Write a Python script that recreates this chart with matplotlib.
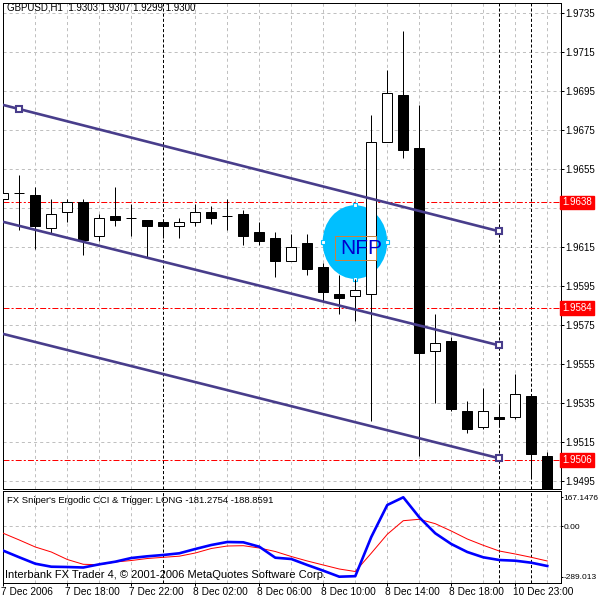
import numpy as np
import matplotlib.pyplot as plt
from matplotlib.patches import Rectangle, Ellipse
from matplotlib.transforms import ScaledTranslation

plt.rcParams['font.family'] = ['Liberation Sans', 'DejaVu Sans']
plt.rcParams['lines.scale_dashes'] = False

# GBPUSD H1 bars, 7 Dec 2006 14:00 .. 11 Dec 01:00
opens = [1.9640, 1.9643, 1.9642, 1.9625, 1.9633, 1.9638, 1.9621, 1.9631, 1.9630, 1.9629,
         1.9628, 1.9626, 1.9628, 1.9633, 1.9631, 1.9632, 1.9623, 1.9620, 1.9608, 1.9617,
         1.9605, 1.9591, 1.9590, 1.9591, 1.9669, 1.9693, 1.9666, 1.9562, 1.9567, 1.9531,
         1.9523, 1.9528, 1.9528, 1.9539, 1.9508]
highs = [1.9668, 1.9652, 1.9646, 1.9640, 1.9640, 1.9640, 1.9632, 1.9646, 1.9637, 1.9629,
         1.9628, 1.9630, 1.9637, 1.9636, 1.9640, 1.9634, 1.9628, 1.9623, 1.9622, 1.9622,
         1.9607, 1.9601, 1.9599, 1.9683, 1.9706, 1.9726, 1.9688, 1.9581, 1.9569, 1.9536,
         1.9543, 1.9534, 1.9550, 1.9539, 1.9510]
lows = [1.9626, 1.9624, 1.9614, 1.9622, 1.9628, 1.9611, 1.9618, 1.9626, 1.9621, 1.9610,
        1.9620, 1.9620, 1.9626, 1.9627, 1.9624, 1.9616, 1.9616, 1.9600, 1.9608, 1.9601,
        1.9587, 1.9581, 1.9577, 1.9526, 1.9669, 1.9661, 1.9508, 1.9535, 1.9531, 1.9520,
        1.9522, 1.9524, 1.9527, 1.9496, 1.9485]
closes = [1.9643, 1.9643, 1.9626, 1.9632, 1.9638, 1.9619, 1.9630, 1.9629, 1.9630, 1.9626,
          1.9626, 1.9628, 1.9633, 1.9630, 1.9631, 1.9621, 1.9618, 1.9608, 1.9615, 1.9604,
          1.9592, 1.9589, 1.9593, 1.9669, 1.9694, 1.9665, 1.9561, 1.9566, 1.9532, 1.9522,
          1.9531, 1.9527, 1.9540, 1.9509, 1.9488]

# Ergodic CCI (blue) and trigger (red)
ergodic = [-139.6, -177.6, -214.3, -231.6, -233.3, -236.2, -217.8, -202.8, -181.6, -171.8,
           -164.3, -154.6, -129.9, -106.9, -89.7, -91.4, -116.7, -179.9, -187.3, -221.8,
           -254.5, -289.0, -286.0, -60.9, 122.9, 167.1, 52.2, -39.7, -101.2, -147.1,
           -177.6, -193.1, -197.1, -208.6, -227.5]
trigger = [-39.7, -78.2, -118.4, -147.1, -190.2, -217.8, -220.1, -204.6, -196.0, -184.5,
           -177.6, -171.2, -152.9, -127.0, -112.7, -110.9, -124.1, -144.2, -173.0, -198.8,
           -221.8, -244.8, -259.2, -154.0, -45.4, 32.7, 40.8, 15.5, -26.5, -72.4,
           -108.6, -141.4, -158.6, -177.6, -198.8]

price_ticks = [1.9735, 1.9715, 1.9695, 1.9675, 1.9655, 1.9635, 1.9615, 1.9595,
               1.9575, 1.9555, 1.9535, 1.9515, 1.9495]
level_lines = [1.9638, 1.9584, 1.9506]
separators = [10, 31, 33]
time_bars = [0, 4, 8, 12, 16, 20, 24, 28, 32]
time_labels = ['7 Dec 2006', '7 Dec 18:00', '7 Dec 22:00', '8 Dec 02:00', '8 Dec 06:00',
               '8 Dec 10:00', '8 Dec 14:00', '8 Dec 18:00', '10 Dec 23:00']

# channel lines, anchored at bar 1 and bar 31
chan_bars = [1, 31]
chan_top = [1.96859, 1.96232]
chan_mid = [1.96260, 1.95647]
chan_bot = [1.95685, 1.95068]

ind_ticks = [167.1476, 0.0, -289.013]
ind_tick_labels = ['167.1476', '0.00', '-289.013']

PX = 0.72  # one pixel in points at 100 dpi
GRID = dict(color='#c0c0c0', lw=PX, dashes=(2.2, 2.2), zorder=0)
SEP = dict(color='black', lw=PX, dashes=(2.2, 1.5), zorder=0.5)
CHAN = '#483d8b'

fig = plt.figure(figsize=(6, 6), dpi=100)
ax = fig.add_axes([3/600, 1 - 489.3/600, 557.7/600, 486.3/600])
ind = fig.add_axes([3/600, 1 - 583/600, 557.7/600, 92/600])
xlim = (-0.019, 34.84)

# ---- main price window
ax.set_xlim(*xlim)
ax.set_ylim(1.94909, 1.97403)
for p in price_ticks:
    ax.axhline(p, **GRID)
for k in range(2, 35, 2):
    if k not in separators:
        ax.axvline(k, **GRID)
for k in separators:
    ax.axvline(k, **SEP)
for p in level_lines:
    ax.axhline(p, color='red', lw=PX, dashes=(4.3, 1.5, 1.5, 1.5), zorder=1)

# NFP marker
ell_k, ell_p, ell_w, ell_h = 21.98, 1.96177, 4.04, 0.00378
ax.add_patch(Ellipse((ell_k, ell_p), ell_w, ell_h, color='#00bfff', lw=0, zorder=2))
ax.add_patch(Rectangle((20.73, 1.96085), 2.56, 0.00123, fill=False, ec='#c8823c',
                       lw=PX, zorder=4.5))
ax.text(22.36, 1.96146, 'NFP', color='#0000cd', fontsize=15, ha='center', va='center',
        zorder=4.6)
hx = [ell_k, ell_k - ell_w/2, ell_k + ell_w/2, ell_k]
hy = [ell_p + ell_h/2, ell_p, ell_p, ell_p - ell_h/2]
ax.plot(hx, hy, 's', ms=3.2, mfc='white', mec='#00bfff', mew=0.8, ls='none', zorder=2.4)

# candles
w = 0.625
for k, (o, h, l, c) in enumerate(zip(opens, highs, lows, closes)):
    ax.vlines(k, l, h, color='black', lw=PX, zorder=3)
    fc = 'white' if c >= o else 'black'
    ax.add_patch(Rectangle((k - w/2, min(o, c)), w, abs(c - o), fc=fc, ec='black',
                           lw=PX, zorder=4))

# channel
xs = np.array([xlim[0] - 1, chan_bars[1]])
for line in (chan_top, chan_mid, chan_bot):
    slope = (line[1] - line[0]) / (chan_bars[1] - chan_bars[0])
    ys = line[0] + slope * (xs - chan_bars[0])
    ax.plot(xs, ys, color=CHAN, lw=1.9, zorder=5, solid_capstyle='butt')
    ax.plot(chan_bars[1], line[1], 's', ms=5, mfc='white', mec=CHAN, mew=1.5, zorder=6)
ax.plot(chan_bars[0], chan_top[0], 's', ms=5, mfc='white', mec=CHAN, mew=1.5, zorder=6)

# price scale; the 1.9635 label sits under the red 1.9638 box, so it stays blank
ax.yaxis.tick_right()
ax.set_yticks(price_ticks)
ax.set_yticklabels(['' if abs(p - level_lines[0]) < 0.0005 else f'{p:.4f}'
                    for p in price_ticks])
ax.tick_params(axis='y', length=3*PX, width=PX, pad=1.5, labelsize=7)
ax.tick_params(axis='x', bottom=False, labelbottom=False)
for s in ax.spines.values():
    s.set_linewidth(PX)

for p in level_lines:
    ax.text(1.003, p, f'{p:.4f}', transform=ax.get_yaxis_transform(), color='white',
            fontsize=7, va='center', ha='left', clip_on=False, zorder=10,
            bbox=dict(boxstyle='square,pad=0.2', fc='red', ec='red'))

ax.text(0.007, 0.990, 'GBPUSD,H1  1.9303 1.9307 1.9299 1.9300', transform=ax.transAxes,
        fontsize=7, va='center', ha='left', zorder=10)

# ---- indicator window
ind.set_xlim(*xlim)
ind.set_ylim(-325.2, 203.3)
ind.axhline(0, **GRID)
for k in range(2, 35, 2):
    if k not in separators:
        ind.axvline(k, **GRID)
for k in separators:
    ind.axvline(k, **SEP)
bars = np.arange(len(ergodic))
ind.plot(bars, trigger, color='red', lw=PX, zorder=3)
ind.plot(bars, ergodic, color='blue', lw=1.9, zorder=4)

ind.yaxis.tick_right()
ind.set_yticks(ind_ticks)
ind.set_yticklabels(ind_tick_labels)
ind.tick_params(axis='y', length=2*PX, width=PX, pad=0.8, labelsize=6.0)
ind.set_xticks(time_bars)
ind.set_xticklabels(time_labels, ha='left')
ind.tick_params(axis='x', length=3*PX, width=PX, pad=1, labelsize=7.3)
shift = ScaledTranslation(-2/100, 0, fig.dpi_scale_trans)
for lbl in ind.get_xticklabels():
    lbl.set_transform(lbl.get_transform() + shift)
for s in ind.spines.values():
    s.set_linewidth(PX)

ind.text(0.007, 0.9, "FX Sniper's Ergodic CCI & Trigger: LONG -181.2754 -188.8591",
         transform=ind.transAxes, fontsize=6.8, va='center', ha='left', zorder=10)
ind.text(0.004, 0.09, 'Interbank FX Trader 4, \u00a9 2001-2006 MetaQuotes Software Corp.',
         transform=ind.transAxes, fontsize=8, va='center', ha='left', zorder=10)

fig.savefig('out.png', dpi=100)
